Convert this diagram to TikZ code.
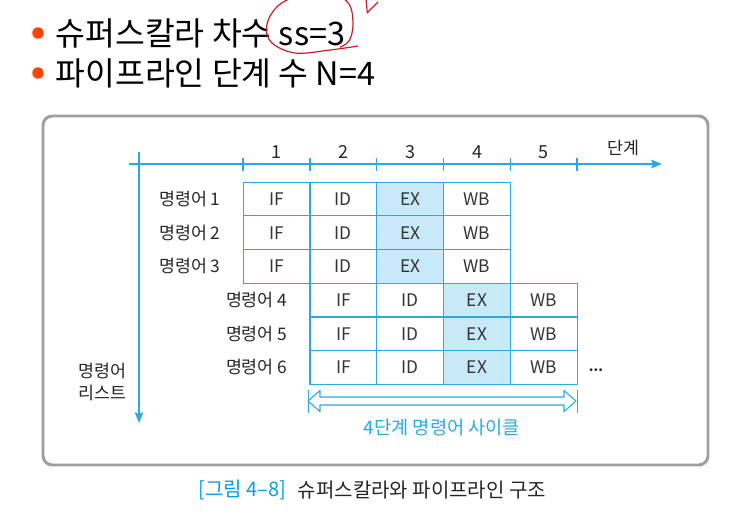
\documentclass[tikz,border=0pt]{standalone}
\usepackage{fontspec}
\setmainfont{Noto Sans CJK KR}
\usetikzlibrary{arrows.meta, positioning}
\definecolor{pipeblue}{RGB}{41, 171, 226}
\definecolor{exfill}{RGB}{199, 233, 248}
\definecolor{bulletred}{RGB}{255, 69, 0}
\definecolor{penred}{RGB}{200, 30, 40}
\definecolor{capblue}{RGB}{0, 160, 225}

\begin{document}
\begin{tikzpicture}[x=0.75pt, y=-0.75pt,
  cell/.style={draw=pipeblue, line width=0.9pt, minimum width=50.1pt, minimum height=25.3pt, inner sep=0pt, font=\fontsize{13}{15}\selectfont, text=black!80},
  ex/.style={cell, fill=exfill},
  inst/.style={font=\fontsize{13}{15}\selectfont, text=black!85},
  num/.style={font=\fontsize{13.5}{15}\selectfont, text=black!85},
  title/.style={font=\fontsize{24.3}{28}\selectfont, anchor=west},
  axis/.style={pipeblue, line width=0.9pt, -{Stealth[length=8.2pt, width=6.5pt, inset=1.5pt]}},
]
  \useasboundingbox (0,0) rectangle (738,514);

  % Bullet lines
  \fill[bulletred] (38,33) circle (4.3pt);
  \fill[bulletred] (38,73) circle (4.3pt);
  \node[title] (ss) at (51,33) {슈퍼스칼라 차수 ss=3};
  \node[title] (nn) at (51,73) {파이프라인 단계 수 N=4};

  % Pen marks
  \draw[penred, line width=0.9pt] plot[smooth, tension=0.6] coordinates {(358,46) (330,50) (295,53) (271,42) (267,24) (279,5) (302,-5) (332,-6) (349,4) (353,25) (349,41) (340,47)};
  \draw[penred, line width=0.9pt] (366,-1) -- (367.3,12.7) -- (378,2);

  % Frame
  \draw[black!38, line width=2.2pt, rounded corners=7pt] (43,116) rectangle (708,465);

  % Axes
  \coordinate (xs) at (129,164);
  \coordinate (xe) at (662,164);
  \coordinate (ys) at (139,152);
  \coordinate (ye) at (139,423);
  \draw[axis] (xs) -- (xe);
  \draw[axis] (ys) -- (ye);
  \foreach \x in {243, 310, 376.6, 443.4, 510.2, 577}
    \draw[pipeblue, line width=0.9pt] (\x,158) -- (\x,171);
  \node[num] (n1) at (276.6,152) {1};
  \node[num] (n2) at (343.4,152) {2};
  \node[num] (n3) at (410.2,152) {3};
  \node[num] (n4) at (477,152) {4};
  \node[num] (n5) at (543.8,152) {5};
  \node[inst] (stage) at (623,148) {단계};
  \node[inst, align=left, anchor=west] (list) at (74,382) {명령어\\[1pt]리스트};

  % First three instructions
  \foreach \r/\y in {1/199, 2/232.7, 3/266.4} {
    \node[cell] (if\r) at (276.6,\y) {IF};
    \node[cell] (id\r) at (343.4,\y) {ID};
    \node[ex] (ex\r) at (410.2,\y) {EX};
    \node[cell] (wb\r) at (477,\y) {WB};
    \node[inst, left=13pt of if\r] (in\r) {명령어 \r};
  }

  % Next three instructions
  \foreach \r/\y in {4/300.1, 5/333.8, 6/367.5} {
    \node[cell] (if\r) at (343.4,\y) {IF};
    \node[cell] (id\r) at (410.2,\y) {ID};
    \node[ex] (ex\r) at (477,\y) {EX};
    \node[cell] (wb\r) at (543.8,\y) {WB};
    \node[inst, left=13pt of if\r] (in\r) {명령어 \r};
  }
  \node[font=\fontsize{10}{12}\selectfont\bfseries, text=black!85] (dots) at (596,370) {...};

  % Cycle arrow
  \coordinate (ca) at (308,401);
  \coordinate (cb) at (576,401);
  \draw[pipeblue, line width=0.8pt, line join=round] (ca) -- ++(12,-10.5) -- ++(0,6.5) -- ++(244,0) -- ++(0,-6.5)
    -- (cb) -- ++(-12,10.5) -- ++(0,-6.5) -- ++(-244,0) -- ++(0,6.5) -- cycle;
  \draw[pipeblue, line width=0.6pt] (ca) ++(0,-11) -- ++(0,23);
  \draw[pipeblue, line width=0.6pt] (cb) ++(1,-11) -- ++(0,23);
  \node[font=\fontsize{14}{16}\selectfont, text=pipeblue] (cycle) at (442,428) {4단계 명령어 사이클};

  % Caption
  \node[font=\fontsize{15}{18}\selectfont, text=capblue, anchor=west] (fig) at (194,490) {[그림 4–8]};
  \node[font=\fontsize{15}{18}\selectfont, text=black!85, right=1.5pt of fig] (cap) {슈퍼스칼라와 파이프라인 구조};
\end{tikzpicture}
\end{document}
